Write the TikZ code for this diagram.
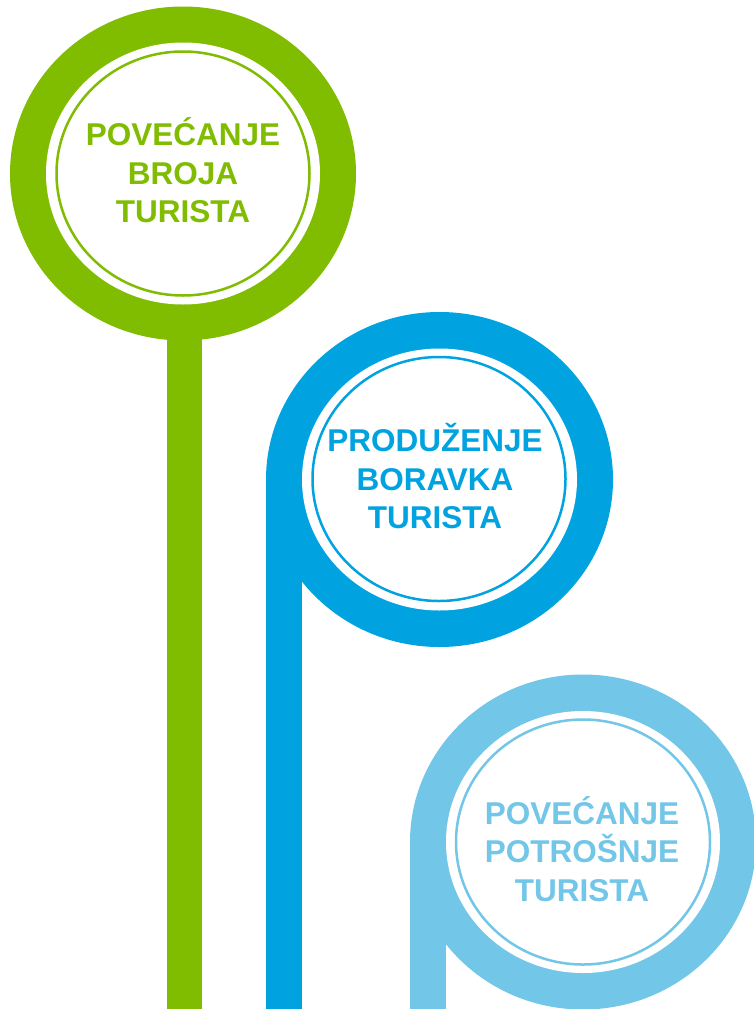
\documentclass[tikz,border=0pt]{standalone}
\usepackage{fontspec}
\setmainfont{Liberation Sans}
\usepackage{tikz}
\usetikzlibrary{positioning}
\definecolor{pgreen}{HTML}{80BC00}
\definecolor{pblue}{HTML}{00A3DF}
\definecolor{plight}{HTML}{72C6E7}
\begin{document}
\begin{tikzpicture}[x=1pt,y=-1pt,
    goal/.style={align=center,inner sep=0pt,font=\fontsize{31.5}{38.5}\selectfont\bfseries},
    rim/.style={line width=2.5pt}]
      \useasboundingbox (0,0) rectangle (753,1009);
      % green
      \fill[pgreen] (167,300) rectangle (202,1009);
      \fill[pgreen] (183,173.5) ellipse [x radius=173,y radius=167];
      \fill[white] (183,173.5) ellipse [x radius=137,y radius=131];
      \draw[rim,pgreen] (183,173.5) ellipse [x radius=126.5,y radius=122];
      \node[goal,text=pgreen] (g0) at (183,170.5) {POVEĆANJE\\BROJA\\TURISTA};
      % blue
      \fill[pblue] (266,479.5) rectangle (302,1009);
      \fill[pblue] (439.5,479.5) ellipse [x radius=173.5,y radius=167.5];
      \fill[white] (439.5,479.5) ellipse [x radius=137.5,y radius=131];
      \draw[rim,pblue] (439,479) ellipse [x radius=126.5,y radius=122];
      \node[goal,text=pblue] (g1) at (435,476.5) {PRODUŽENJE\\BORAVKA\\TURISTA};
      % light blue
      \fill[plight] (410,842) rectangle (446,1009);
      \fill[plight] (583,842) ellipse [x radius=173,y radius=167.5];
      \fill[white] (583,842) ellipse [x radius=137,y radius=131];
      \draw[rim,plight] (583,842) ellipse [x radius=127,y radius=122.5];
      \node[goal,text=plight] (g2) at (582,849) {POVEĆANJE\\POTROŠNJE\\TURISTA};
\end{tikzpicture}
\end{document}
